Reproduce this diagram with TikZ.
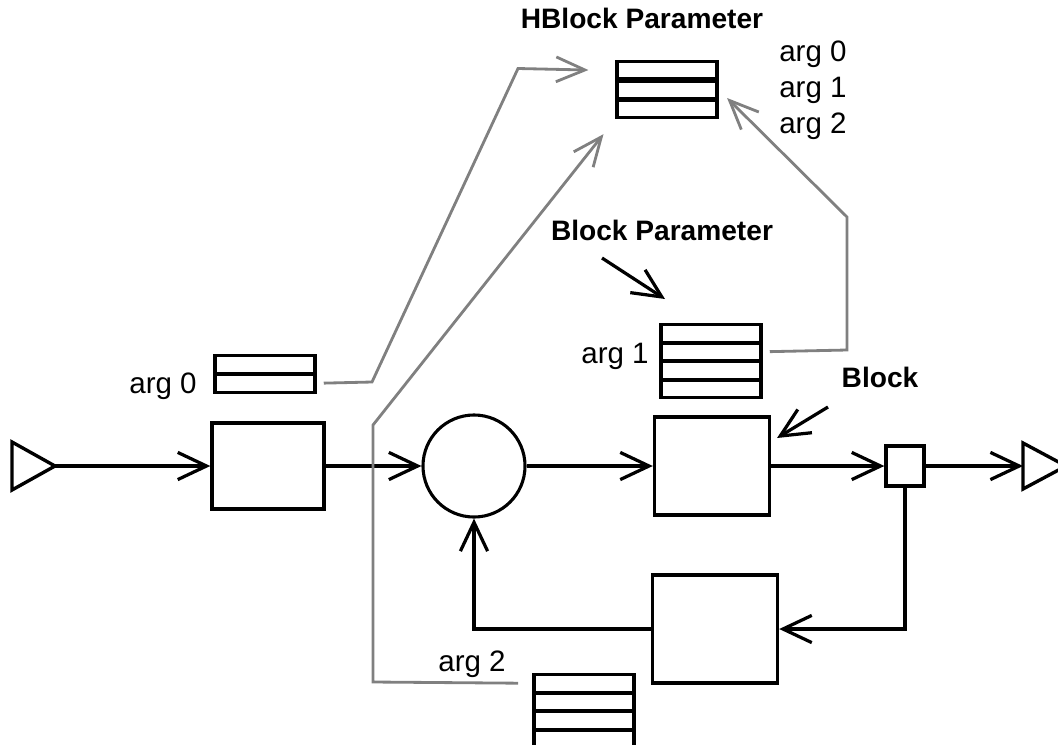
\documentclass[tikz,border=0pt]{standalone}
\usepackage{fontspec}
\setmainfont{Liberation Sans}
\usetikzlibrary{arrows.meta,calc}
\tikzset{
  blockbox/.style={draw,line width=2.4pt,inner sep=0pt},
  sumnode/.style={circle,draw,line width=2.2pt,minimum size=2.55cm,inner sep=0pt},
  argrow/.style={draw,line width=2.2pt,minimum width=2.5cm,minimum height=0.4375cm,
    inner sep=0pt,anchor=north},
  signal/.style={line width=2.3pt,-{Straight Barb[length=0.72cm,width=0.68cm]}},
  parlink/.style={draw=gray,line width=2pt,-{Straight Barb[length=0.72cm,width=0.62cm]}},
  argtext/.style={font=\fontsize{21}{25}\selectfont,anchor=base,inner sep=0pt},
  headtext/.style={font=\bfseries\fontsize{20}{24}\selectfont,anchor=base,inner sep=0pt}
}
\begin{document}
\begin{tikzpicture}[x=0.025cm,y=-0.025cm]
  \clip (0,0) rectangle (1058,744);
  % source and sink
  \draw[line width=2.4pt] (12,442) -- (55,466) -- (12,490) -- cycle;
  \coordinate (src) at (55,466);
  \draw[line width=2.4pt] (1023,443) -- (1066,466) -- (1023,489) -- cycle;
  \coordinate (snk) at (1023,466);
  % blocks
  \node[blockbox,minimum width=2.8cm,minimum height=2.15cm] (pre) at (268,466) {};
  \node[sumnode] (sum) at (474,466) {};
  \node[blockbox,minimum width=2.875cm,minimum height=2.45cm] (blk) at (712,466) {};
  \node[blockbox,minimum width=0.95cm,minimum height=1cm] (tap) at (905,466) {};
  \node[blockbox,minimum width=3.125cm,minimum height=2.7cm] (fb) at (715,629) {};
  % signal flow
  \draw[signal] (src) -- (pre.west);
  \draw[signal] (pre.east) -- (sum.west);
  \draw[signal] (sum.east) -- (blk.west);
  \draw[signal] (blk.east) -- (tap.west);
  \draw[signal] (tap.east) -- (snk);
  \draw[signal] (tap.south) |- (fb.east);
  \draw[signal] (fb.west) -| (sum.south);
  % parameter tables
  \foreach \i/\t in {1/60,2/79.5,3/99}
    \node[argrow,minimum height=0.425cm] (hp\i) at (667,\t) {};
  \foreach \i/\t in {1/323,2/341.5,3/360,4/378.5}
    \node[argrow] (bp\i) at (711,\t) {};
  \foreach \i/\t in {1/354,2/373}
    \node[argrow] (ap\i) at (265,\t) {};
  \foreach \i/\t in {1/673,2/691.5,3/710,4/728.5}
    \node[argrow] (cp\i) at (584,\t) {};
  % labels
  \node[headtext] (hbt) at (642,28) {HBlock Parameter};
  \node[headtext] (bpt) at (662,240) {Block Parameter};
  \node[headtext] (blt) at (880,387) {Block};
  \node[argtext,anchor=base west] (h0) at (779,61) {arg 0};
  \node[argtext,anchor=base west] (h1) at (779,97) {arg 1};
  \node[argtext,anchor=base west] (h2) at (779,133) {arg 2};
  \node[argtext] (a0) at (163,393) {arg 0};
  \node[argtext] (a1) at (615,363) {arg 1};
  \node[argtext] (a2) at (472,671) {arg 2};
  % pointers
  \coordinate (bpa) at (602,258);
  \coordinate (bpb) at (665,299);
  \draw[signal] (bpa) -- (bpb);
  \coordinate (bla) at (828,407);
  \coordinate (blb) at (777,438);
  \draw[signal] (bla) -- (blb);
  % links into the HBlock parameter
  \draw[parlink,shorten <=0.18cm] (ap2.east) -- (372,382) -- (518,68.5)
    -- ([xshift=-0.675cm]hp1.west);
  \draw[parlink,shorten <=0.36cm,shorten >=0.48cm] (cp1.west) -- (373,682) -- (373,425)
    -- (hp3.south west);
  \draw[parlink,shorten <=0.18cm,shorten >=0.3cm] (bp2.east) -- (847,350) -- (847,217)
    -- (hp2.east);
\end{tikzpicture}
\end{document}
